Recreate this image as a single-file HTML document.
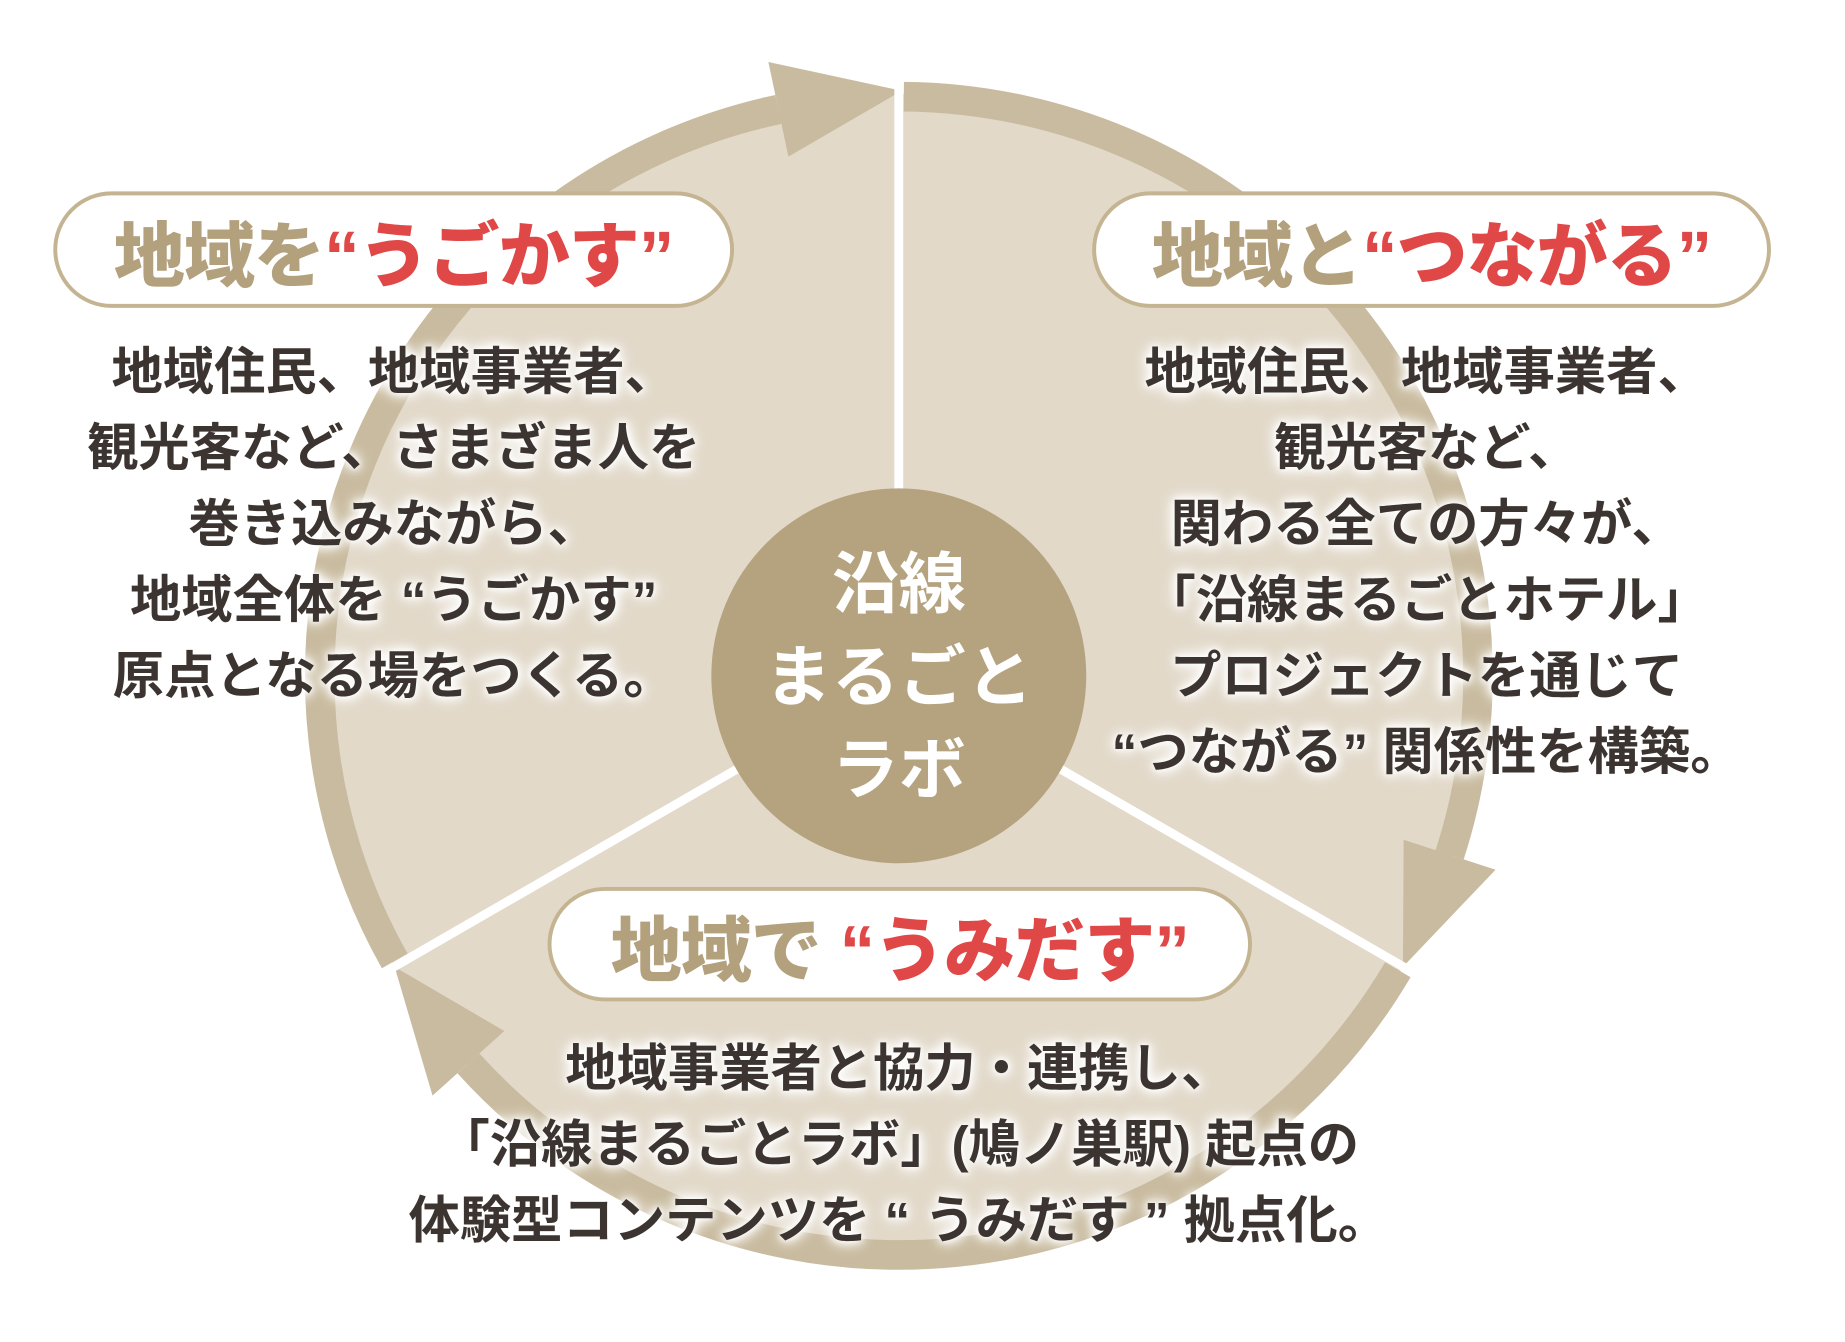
<!DOCTYPE html>
<html><head><meta charset="utf-8"><style>
html,body{margin:0;padding:0;background:#fff;}
body{width:1845px;height:1342px;position:relative;overflow:hidden;font-family:"Liberation Sans","Noto Sans CJK JP",sans-serif;}
#w{position:absolute;left:0;top:0;width:1845px;height:1342px;transform:scale(0.9866);transform-origin:0 0;}
.pill{position:absolute;border:4px solid #c5b492;border-radius:70px;background:#fff;box-sizing:border-box;display:flex;align-items:center;justify-content:center;font-weight:900;font-size:72px;color:#b3a07c;white-space:nowrap;letter-spacing:-1px;}
.pill b{color:#e04848;font-weight:900;}
.txt{position:absolute;text-align:center;font-weight:700;font-size:52px;line-height:77px;color:#3b3431;white-space:nowrap;
text-shadow:0 0 6px #fff,0 0 10px #fff,0 0 14px #fff,0 0 18px #fff;}
.ctr{position:absolute;left:711px;width:400px;text-align:center;color:#fff;font-weight:700;font-size:68px;line-height:94px;top:546px;}
</style></head><body><div id="w">
<svg width="1845" height="1342" style="position:absolute;left:0;top:0">
<circle cx="911" cy="685" r="590" fill="#e2d9c9"/>
<g fill="none" stroke="#c9bb9f" stroke-width="30">
<path d="M916.1,98.0 A587,587 0 0 1 1469.3,866.4"/>
<path d="M1416.8,982.9 A587,587 0 0 1 474.8,1077.8"/>
<path d="M400.1,974.0 A587,587 0 0 1 789.0,110.9"/>
</g>
<g fill="#c9bb9f">
<polygon points="1422.7,851.2 1515.9,881.5 1422,980"/>
<polygon points="511.2,1045.0 438.4,1110.5 400,980"/>
<polygon points="799.1,158.8 778.8,62.9 914,92"/>
</g>
<g stroke="#fff" stroke-width="9">
<line x1="911" y1="685" x2="911" y2="80"/>
<line x1="911" y1="685" x2="1440" y2="990"/>
<line x1="911" y1="685" x2="382" y2="990"/>
</g>
<circle cx="911" cy="685" r="190" fill="#b5a27f"/>
</svg>
<div class="ctr">沿線<br>まるごと<br>ラボ</div>
<div class="pill" style="left:54px;top:194px;width:690px;height:118px;">地域を<b>“うごかす”</b></div>
<div class="pill" style="left:1107px;top:194px;width:688px;height:118px;">地域と<b>“つながる”</b></div>
<div class="pill" style="left:555px;top:899px;width:714px;height:116px;">地域で<b>&nbsp;“うみだす”</b></div>
<div class="txt" style="left:0;width:798px;top:340px;">地域住民、地域事業者、<br>観光客など、さまざま人を<br>巻き込みながら、<br>地域全体を “うごかす”<br>原点となる場をつくる。</div>
<div class="txt" style="left:1046px;width:800px;top:340px;">地域住民、地域事業者、<br>観光客など、<br>関わる全ての方々が、<br>「沿線まるごとホテル」<br>プロジェクトを通じて<br>“つながる” 関係性を構築。</div>
<div class="txt" style="left:311px;width:1200px;top:1046px;">地域事業者と協力・連携し、<br>「沿線まるごとラボ」(鳩ノ巣駅) 起点の<br>体験型コンテンツを “ うみだす ” 拠点化。</div>
</div></body></html>
